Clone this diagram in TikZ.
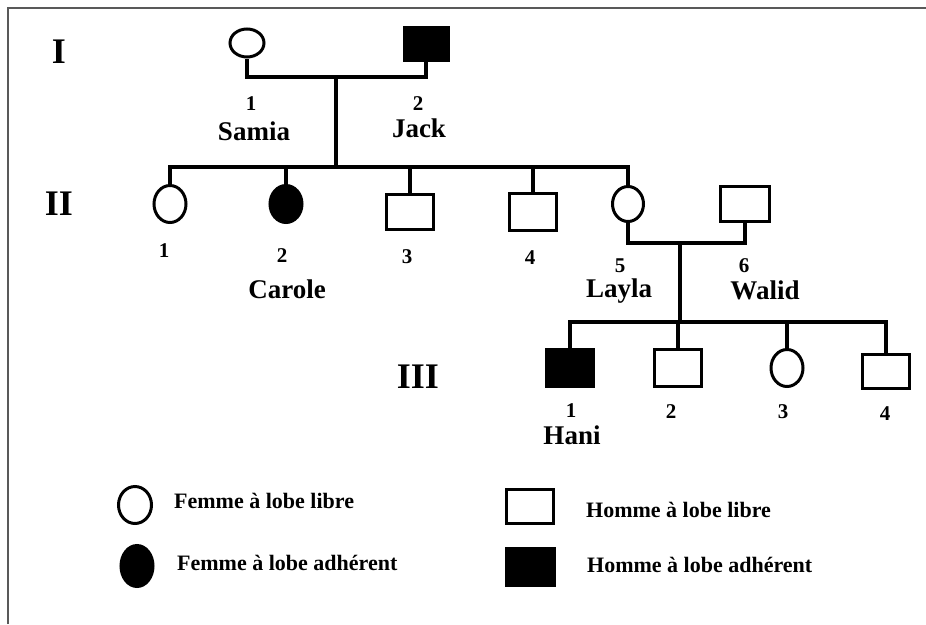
\documentclass[tikz,border=0pt]{standalone}
\usepackage{fontspec}
\setmainfont{Liberation Serif}
\usetikzlibrary{shapes.geometric}

\begin{document}
\begin{tikzpicture}[x=1pt, y=-1pt, line join=miter,
    femme/.style={ellipse, draw, line width=3pt, inner sep=0pt, minimum width=32pt, minimum height=37pt},
    homme/.style={rectangle, draw, line width=3pt, inner sep=0pt, minimum width=47pt, minimum height=35pt},
    atteint/.style={fill=black},
    lien/.style={line width=3.5pt},
    num/.style={font=\bfseries\fontsize{21}{21}\selectfont, inner sep=0pt, anchor=base},
    nom/.style={font=\bfseries\fontsize{27}{27}\selectfont, inner sep=0pt, anchor=base},
    gen/.style={font=\bfseries\fontsize{36}{36}\selectfont, inner sep=0pt, anchor=base},
    legende/.style={font=\bfseries\fontsize{22}{22}\selectfont, inner sep=0pt, anchor=base west}]

    \useasboundingbox (0,0) rectangle (926,624);
    \fill[white] (0,0) rectangle (926,624);

    % Frame (left and top only)
    \draw[line width=1.5pt, black!65] (8,624) -- (8,8) -- (926,8);

    % Generations
    \node[gen] (gen-I)   at (59,63)   {I};
    \node[gen] (gen-II)  at (59,215)  {II};
    \node[gen] (gen-III) at (418,388) {III};

    % Generation I
    \node[femme, minimum width=34pt, minimum height=28pt] (samia) at (247,43) {};
    \node[homme, atteint, minimum width=44pt, minimum height=33pt] (jack) at (426,44) {};
    \coordinate (m1) at (336,77);
    \coordinate (s1) at (336,167);

    % Generation II
    \node[femme] (ii1) at (170,204) {};
    \node[femme, atteint] (ii2) at (286,204) {};
    \node[homme] (ii3) at (410,212) {};
    \node[homme, minimum height=37pt] (ii4) at (533,212) {};
    \node[femme, minimum width=31pt, minimum height=35pt] (ii5) at (628,204) {};
    \node[homme, minimum width=49pt] (ii6) at (745,204) {};
    \coordinate (m2) at (680,243);
    \coordinate (s2) at (680,322);

    % Generation III
    \node[homme, atteint, minimum height=37pt] (iii1) at (570,368) {};
    \node[homme, minimum height=37pt] (iii2) at (678,368) {};
    \node[femme] (iii3) at (787,368) {};
    \node[homme, minimum height=34pt] (iii4) at (886,371) {};

    % Couples and offspring
    \draw[lien] (samia.south) |- (m1) -| (jack.south);
    \draw[lien] (m1) -- (s1);
    \foreach \c in {ii1,ii2,ii3,ii4,ii5}{
        \draw[lien] (\c.north) |- (s1);
    }
    \draw[lien] (ii5.south) |- (m2) -| (ii6.south);
    \draw[lien] (m2) -- (s2);
    \foreach \c in {iii1,iii2,iii3,iii4}{
        \draw[lien] (\c.north) |- (s2);
    }

    % Numbers
    \foreach \n/\x/\y/\t in {
        samia/251/110/1,
        jack/418/110/2,
        ii1/164/257/1,
        ii2/282/262/2,
        ii3/407/263/3,
        ii4/530/264/4,
        ii5/620/272/5,
        ii6/744/272/6,
        iii1/571/417/1,
        iii2/671/418/2,
        iii3/783/418/3,
        iii4/885/420/4
    }{
        \node[num] (num-\n) at (\x,\y) {\t};
    }

    % Names
    \node[nom] (nom-samia)  at (254,140) {Samia};
    \node[nom] (nom-jack)   at (419,137) {Jack};
    \node[nom] (nom-carole) at (287,298) {Carole};
    \node[nom] (nom-layla)  at (619,297) {Layla};
    \node[nom] (nom-walid)  at (765,299) {Walid};
    \node[nom] (nom-hani)   at (572,444) {Hani};

    % Legend
    \node[femme, minimum width=33pt, minimum height=37pt] (leg-fl) at (135,505) {};
    \node[legende] (txt-fl) at (174,508) {Femme à lobe libre};

    \node[femme, atteint, minimum width=32pt, minimum height=41pt] (leg-fa) at (137,566) {};
    \node[legende] (txt-fa) at (177,570) {Femme à lobe adhérent};

    \node[homme, minimum width=47pt, minimum height=34pt] (leg-hl) at (530,506) {};
    \node[legende] (txt-hl) at (586,517) {Homme à lobe libre};

    \node[homme, atteint, minimum width=48pt, minimum height=37pt] (leg-ha) at (530,567) {};
    \node[legende] (txt-ha) at (587,572) {Homme à lobe adhérent};

\end{tikzpicture}
\end{document}
